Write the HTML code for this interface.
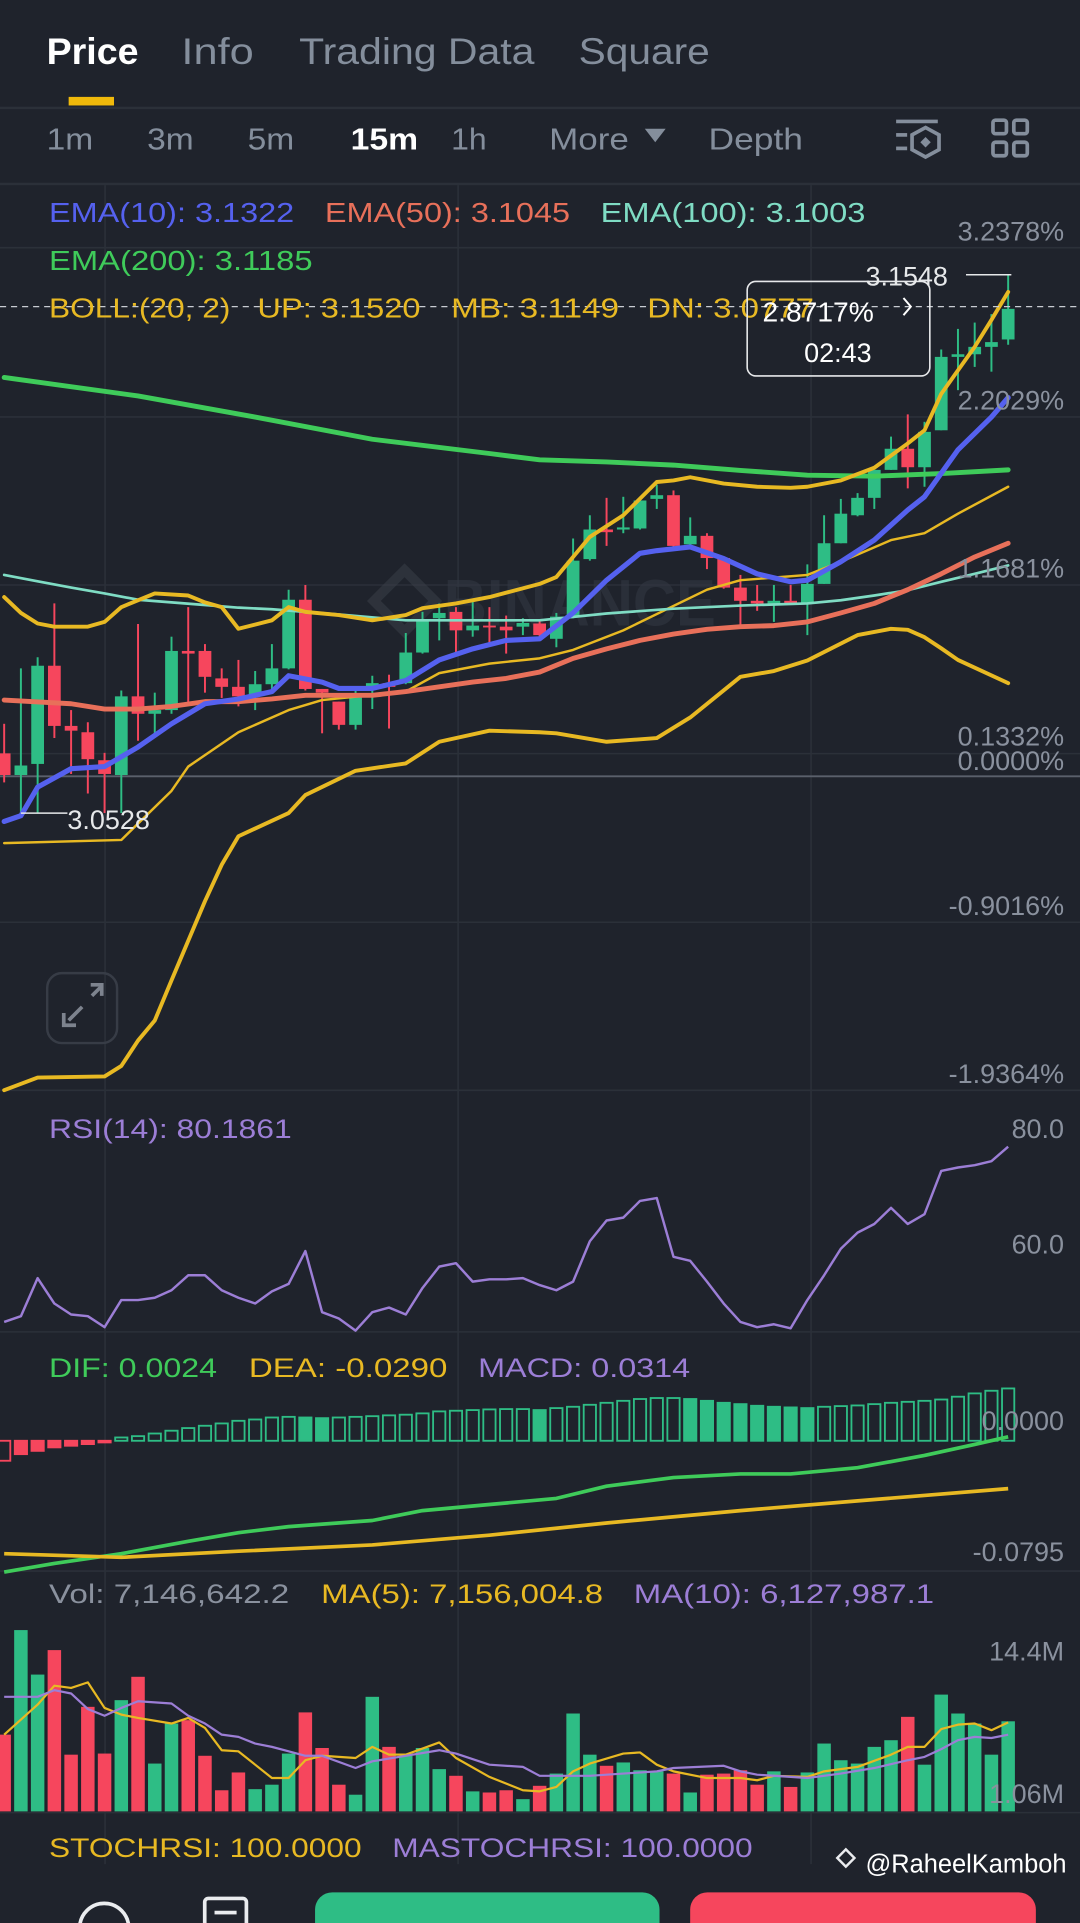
<!DOCTYPE html>
<html><head><meta charset="utf-8">
<style>
html,body{margin:0;padding:0;background:#1f232c;}
svg{display:block;font-family:"Liberation Sans",sans-serif;}
</style></head>
<body>
<svg id="chart" width="1080" height="1923" viewBox="0 0 881 1568" preserveAspectRatio="none" xmlns="http://www.w3.org/2000/svg">
<rect x="0" y="0" width="881" height="1568" fill="#1f232c"/>

<!-- top tabs -->
<g font-size="30">
<text x="38" y="52" fill="#ffffff" font-weight="bold" textLength="75" lengthAdjust="spacingAndGlyphs">Price</text>
<text x="148" y="52" fill="#848e9c" textLength="59" lengthAdjust="spacingAndGlyphs">Info</text>
<text x="244" y="52" fill="#848e9c" textLength="192" lengthAdjust="spacingAndGlyphs">Trading Data</text>
<text x="472" y="52" fill="#848e9c" textLength="107" lengthAdjust="spacingAndGlyphs">Square</text>
<rect x="56" y="79" width="37" height="7" fill="#f0b90b"/>
</g>
<rect x="0" y="87" width="881" height="2" fill="#2b3039"/>

<!-- interval row -->
<g font-size="25">
<text x="38" y="122" fill="#848e9c" textLength="38" lengthAdjust="spacingAndGlyphs">1m</text>
<text x="120" y="122" fill="#848e9c" textLength="38" lengthAdjust="spacingAndGlyphs">3m</text>
<text x="202" y="122" fill="#848e9c" textLength="38" lengthAdjust="spacingAndGlyphs">5m</text>
<text x="286" y="122" fill="#ffffff" font-weight="bold" textLength="55" lengthAdjust="spacingAndGlyphs">15m</text>
<text x="368" y="122" fill="#848e9c" textLength="29" lengthAdjust="spacingAndGlyphs">1h</text>
<text x="448" y="122" fill="#848e9c" textLength="65" lengthAdjust="spacingAndGlyphs">More</text>
<path d="M526 105 L543 105 L534.5 116 Z" fill="#848e9c"/>
<text x="578" y="122" fill="#848e9c" textLength="77" lengthAdjust="spacingAndGlyphs">Depth</text>
<g stroke="#848e9c" stroke-width="3" fill="none">
<line x1="731" y1="99" x2="765" y2="99"/><line x1="731" y1="110" x2="740" y2="110"/><line x1="731" y1="121" x2="740" y2="121"/>
<path d="M755 104 L766 110 L766 122 L755 128 L744 122 L744 110 Z"/>
<rect x="752" y="113" width="6" height="6" fill="#848e9c" stroke="none" transform="rotate(45 755 116)"/>
</g>
<g stroke="#848e9c" stroke-width="3" fill="none">
<rect x="810" y="98" width="11" height="11" rx="2"/><rect x="827" y="98" width="11" height="11" rx="2"/>
<rect x="810" y="116" width="11" height="11" rx="2"/><rect x="827" y="116" width="11" height="11" rx="2"/>
</g>
</g>
<rect x="0" y="149" width="881" height="2" fill="#2b3039"/>

<!-- grid -->
<g id="grid" stroke="#2b3039" stroke-width="1.3">
<line x1="0" y1="202" x2="881" y2="202"/><line x1="0" y1="340" x2="881" y2="340"/>
<line x1="0" y1="477" x2="881" y2="477"/><line x1="0" y1="614.5" x2="881" y2="614.5"/>
<line x1="0" y1="752" x2="881" y2="752"/><line x1="0" y1="889" x2="881" y2="889"/>
<line x1="0" y1="1086" x2="881" y2="1086"/><line x1="0" y1="1281" x2="881" y2="1281"/>
<line x1="0" y1="1478" x2="881" y2="1478"/>
<line x1="85.7" y1="151" x2="85.7" y2="1520"/><line x1="373.7" y1="151" x2="373.7" y2="1520"/><line x1="661.6" y1="151" x2="661.6" y2="1520"/>
</g>
<line x1="0" y1="633" x2="881" y2="633" stroke="#5a606b" stroke-width="1.5"/>

<!-- watermark -->
<g opacity="0.55">
<path d="M330 465 L355 490 L330 515 L305 490 Z" fill="none" stroke="#3a3f49" stroke-width="8"/>
<text x="362" y="510" font-size="54" font-weight="bold" fill="#343944" textLength="222" lengthAdjust="spacingAndGlyphs">BINANCE</text>
</g>

<g id="price-layer"></g>

<!-- current price dashed line -->
<line x1="0" y1="250" x2="881" y2="250" stroke="#c8ccd2" stroke-width="1" stroke-dasharray="5,4"/>

<!-- legends -->
<g font-size="22.5">
<text x="40" y="181" fill="#5561ef" textLength="200" lengthAdjust="spacingAndGlyphs">EMA(10): 3.1322</text>
<text x="265" y="181" fill="#e8705a" textLength="200" lengthAdjust="spacingAndGlyphs">EMA(50): 3.1045</text>
<text x="490" y="181" fill="#7fdcc4" textLength="216" lengthAdjust="spacingAndGlyphs">EMA(100): 3.1003</text>
<text x="40" y="220" fill="#3fcb5a" textLength="215" lengthAdjust="spacingAndGlyphs">EMA(200): 3.1185</text>
<text x="40" y="259" fill="#e8b923" textLength="148" lengthAdjust="spacingAndGlyphs">BOLL:(20, 2)</text>
<text x="210" y="259" fill="#e8b923" textLength="133" lengthAdjust="spacingAndGlyphs">UP: 3.1520</text>
<text x="368" y="259" fill="#e8b923" textLength="137" lengthAdjust="spacingAndGlyphs">MB: 3.1149</text>
<text x="528" y="259" fill="#e8b923" textLength="136" lengthAdjust="spacingAndGlyphs">DN: 3.0777</text>
</g>

<!-- right percent axis -->
<g font-size="22" fill="#8a919e" text-anchor="end">
<text x="868" y="196">3.2378%</text>
<text x="868" y="334">2.2029%</text>
<text x="868" y="471">1.1681%</text>
<text x="868" y="608">0.1332%</text>
<text x="868" y="628">0.0000%</text>
<text x="868" y="746">-0.9016%</text>
<text x="868" y="883">-1.9364%</text>
</g>

<!-- high/low labels -->
<g>
<line x1="788" y1="224" x2="825" y2="224" stroke="#e6e8ea" stroke-width="1.2"/>
<text x="706" y="233" font-size="22" fill="#e6e8ea">3.1548</text>
</g>
<g>
<line x1="17" y1="663" x2="55" y2="663" stroke="#e6e8ea" stroke-width="1.2"/>
<text x="55" y="676" font-size="22" fill="#e6e8ea">3.0528</text>
</g>

<!-- countdown box -->
<g>
<rect x="609.5" y="229.5" width="149" height="77" rx="7" fill="none" stroke="#e6e8ea" stroke-width="1.3"/>
<text x="622" y="262" font-size="23" fill="#ffffff">2.8717%</text>
<path d="M737 243 L743 250 L737 257" fill="none" stroke="#ffffff" stroke-width="1.6"/>
<text x="656" y="295" font-size="22" fill="#ffffff">02:43</text>
</g>

<!-- expand icon -->
<g>
<rect x="38.5" y="793.5" width="57" height="57" rx="12" fill="none" stroke="#373c46" stroke-width="2"/>
<g stroke="#7d838e" stroke-width="3" fill="none">
<line x1="56" y1="832" x2="67" y2="821"/><path d="M52 826 L52 836 L62 836"/>
<line x1="75" y1="812" x2="82" y2="805"/><path d="M74 803 L83 803 L83 812"/>
</g>
</g>

<!-- RSI -->
<text x="40" y="928" font-size="22" fill="#9c7ed6" textLength="198" lengthAdjust="spacingAndGlyphs">RSI(14): 80.1861</text>
<g font-size="22" fill="#8a919e" text-anchor="end">
<text x="868" y="928">80.0</text><text x="868" y="1022">60.0</text>
</g>
<g id="rsi-layer"></g>

<!-- MACD -->
<g font-size="22">
<text x="40" y="1123" fill="#3fcb5a" textLength="137" lengthAdjust="spacingAndGlyphs">DIF: 0.0024</text>
<text x="203" y="1123" fill="#e8b923" textLength="162" lengthAdjust="spacingAndGlyphs">DEA: -0.0290</text>
<text x="390" y="1123" fill="#9c7ed6" textLength="173" lengthAdjust="spacingAndGlyphs">MACD: 0.0314</text>
</g>
<g id="macd-layer"></g>
<g font-size="22" fill="#8a919e" text-anchor="end">
<text x="868" y="1166">0.0000</text><text x="868" y="1273">-0.0795</text>
</g>

<!-- Volume -->
<g font-size="22">
<text x="40" y="1307" fill="#8a919e" textLength="196" lengthAdjust="spacingAndGlyphs">Vol: 7,146,642.2</text>
<text x="262" y="1307" fill="#e8b923" textLength="230" lengthAdjust="spacingAndGlyphs">MA(5): 7,156,004.8</text>
<text x="517" y="1307" fill="#9c7ed6" textLength="245" lengthAdjust="spacingAndGlyphs">MA(10): 6,127,987.1</text>
</g>
<g id="vol-layer"></g>
<g font-size="22" fill="#8a919e" text-anchor="end">
<text x="868" y="1354">14.4M</text><text x="868" y="1470">1.06M</text>
</g>

<!-- STOCHRSI -->
<text x="40" y="1514" font-size="22" fill="#e8b923" textLength="255" lengthAdjust="spacingAndGlyphs">STOCHRSI: 100.0000</text>
<text x="320" y="1514" font-size="22" fill="#9c7ed6" textLength="294" lengthAdjust="spacingAndGlyphs">MASTOCHRSI: 100.0000</text>

<!-- bottom bar -->
<g>
<circle cx="85" cy="1572" r="20" fill="none" stroke="#eaecef" stroke-width="3"/>
<rect x="167" y="1548" width="34" height="30" rx="3" fill="none" stroke="#eaecef" stroke-width="3"/>
<rect x="175" y="1558" width="18" height="3" fill="#eaecef"/>
<rect x="257" y="1543" width="281" height="40" rx="14" fill="#2ebd85"/>
<rect x="563" y="1543" width="282" height="40" rx="14" fill="#f6465d"/>
<path d="M690 1508 L697 1515 L690 1522 L683 1515 Z" fill="none" stroke="#eaecef" stroke-width="2"/>
<text x="706" y="1527" font-size="21" fill="#ffffff" textLength="164" lengthAdjust="spacingAndGlyphs">@RaheelKamboh</text>
</g>
</svg>

<script>
// ---- candle data (price) ----
const opens  = [3.0641,3.0600,3.0621,3.0807,3.0693,3.0681,3.0628,3.0600,3.0749,3.0716,3.0723,3.0835,3.0835,3.0783,3.0767,3.0749,3.0772,3.0802,3.0932,3.0763,3.0739,3.0695,3.0767,3.0774,3.0774,3.0832,3.0897,3.0909,3.0874,3.0883,3.0881,3.0881,3.0887,3.0858,3.0900,3.1009,3.1065,3.1065,3.1067,3.1123,3.1130,3.1037,3.1053,3.1011,3.0955,3.0930,3.0925,3.0930,3.0925,3.0962,3.1039,3.1092,3.1125,3.1178,3.1218,3.1183,3.1253,3.1392,3.1397,3.1411,3.1425];
const closes = [3.0600,3.0618,3.0807,3.0693,3.0684,3.0630,3.0602,3.0749,3.0716,3.0723,3.0835,3.0830,3.0786,3.0767,3.0749,3.0772,3.0802,3.0932,3.0763,3.0756,3.0695,3.0749,3.0774,3.0767,3.0832,3.0893,3.0907,3.0874,3.0883,3.0881,3.0874,3.0888,3.0865,3.0900,3.1006,3.1065,3.1060,3.1069,3.1120,3.1130,3.1034,3.1053,3.1011,3.0955,3.0930,3.0925,3.0930,3.0925,3.0962,3.1039,3.1095,3.1125,3.1178,3.1218,3.1183,3.1250,3.1392,3.1397,3.1411,3.1420,3.1483];
const highs  = [3.0697,3.0802,3.0823,3.0925,3.0723,3.0700,3.0642,3.0760,3.0886,3.0756,3.0862,3.0918,3.0848,3.0802,3.0818,3.0797,3.0848,3.0951,3.0960,3.0763,3.0739,3.0760,3.0788,3.0790,3.0869,3.0909,3.0925,3.0918,3.0932,3.0918,3.0902,3.0897,3.0895,3.0907,3.1048,3.1092,3.1125,3.1127,3.1123,3.1150,3.1139,3.1088,3.1058,3.1011,3.0979,3.0960,3.0960,3.0960,3.0999,3.1092,3.1123,3.1134,3.1178,3.1241,3.1283,3.1269,3.1406,3.1445,3.1457,3.1473,3.1548];
const lows   = [3.0586,3.0528,3.0528,3.0670,3.0602,3.0565,3.0528,3.0528,3.0665,3.0672,3.0716,3.0735,3.0756,3.0746,3.0730,3.0723,3.0758,3.0800,3.0760,3.0679,3.0686,3.0686,3.0725,3.0688,3.0772,3.0830,3.0855,3.0832,3.0862,3.0846,3.0830,3.0865,3.0855,3.0842,3.0897,3.1006,3.1034,3.1058,3.1065,3.1104,3.1032,3.1032,3.0990,3.0953,3.0883,3.0911,3.0890,3.0925,3.0865,3.0962,3.1039,3.1090,3.1104,3.1178,3.1143,3.1146,3.1253,3.1329,3.1373,3.1364,3.1415];

// ---- overlay lines: sampled candle index + price ----
const ema10Idx = [0,1,2,4,6,8,10,12,14,16,17,19,20,22,24,26,28,30,32,34,36,38,39,41,43,45,47,48,50,52,54,55,57,59,60];
const ema10Val = [3.0512,3.0523,3.0577,3.0612,3.0616,3.0653,3.0697,3.0735,3.0744,3.0758,3.0788,3.0776,3.0764,3.0764,3.0779,3.0818,3.0839,3.0855,3.0858,3.0907,3.0969,3.1020,3.1025,3.1032,3.1010,3.0981,3.0966,3.0969,3.1004,3.1045,3.1102,3.1127,3.1216,3.1278,3.1315];
const ema50Idx = [0,4,6,8,10,12,14,16,18,20,22,24,26,28,30,32,34,36,38,40,42,44,46,48,50,52,54,56,58,60];
const ema50Val = [3.0742,3.0735,3.0725,3.0725,3.0730,3.0739,3.0739,3.0744,3.0751,3.0751,3.0751,3.0758,3.0767,3.0776,3.0783,3.0795,3.0821,3.0839,3.0855,3.0867,3.0876,3.0881,3.0883,3.0890,3.0907,3.0925,3.0951,3.0981,3.1013,3.1039];
const ema100Idx = [0,2,4,6,8,10,12,14,16,20,24,28,32,36,40,44,48,50,52,54,56,58,60];
const ema100Val = [3.0979,3.0967,3.0955,3.0944,3.0932,3.0927,3.0922,3.0917,3.0914,3.0904,3.0893,3.0893,3.0893,3.0906,3.0915,3.0921,3.0925,3.0931,3.0940,3.0950,3.0966,3.0981,3.0997];
const ema200Idx = [0,8,15,22,29,32,36,40,44,48,52,56,60];
const ema200Val = [3.1353,3.1318,3.1278,3.1236,3.1209,3.1197,3.1193,3.1187,3.1177,3.1168,3.1166,3.1171,3.1178];
const bollUpIdx = [0,1,2,3,5,6,7,9,11,12,13,14,16,17,18,20,22,24,25,27,29,32,33,35,37,39,40,41,43,45,47,48,50,52,54,55,56,58,59,60];
const bollUpVal = [3.0937,3.0907,3.0887,3.0881,3.0881,3.0890,3.0918,3.0944,3.0940,3.0927,3.0918,3.0877,3.0893,3.0918,3.0909,3.0903,3.0893,3.0903,3.0916,3.0925,3.0937,3.0962,3.0975,3.1051,3.1092,3.1155,3.1158,3.1164,3.1152,3.1146,3.1144,3.1146,3.1158,3.1182,3.1228,3.1253,3.1322,3.1411,3.1462,3.1515];
const bollMbIdx = [0,7,10,11,14,17,19,24,26,29,32,34,37,42,44,48,50,53,55,57,60];
const bollMbVal = [3.0471,3.0477,3.0570,3.0616,3.0681,3.0723,3.0742,3.0758,3.0793,3.0811,3.0821,3.0837,3.0874,3.0951,3.0969,3.0979,3.1004,3.1045,3.1058,3.1095,3.1146];
const bollDnIdx = [0,2,6,7,8,9,10,11,12,13,14,17,18,21,24,26,29,32,33,36,39,41,44,46,48,51,53,54,55,56,57,60];
const bollDnVal = [3.0003,3.0027,3.0029,3.0049,3.0097,3.0135,3.0211,3.0286,3.0361,3.0430,3.0484,3.0528,3.0562,3.0608,3.0622,3.0663,3.0684,3.0681,3.0679,3.0663,3.0670,3.0709,3.0786,3.0797,3.0817,3.0865,3.0877,3.0875,3.0861,3.0840,3.0818,3.0774];

// ---- RSI ----
const rsiVal = [46.4,47.4,54.0,49.6,47.7,47.4,45.5,50.2,50.2,50.6,51.9,54.5,54.5,51.9,50.6,49.6,51.7,53.0,58.7,48.1,47.0,44.9,48.1,48.9,47.7,52.3,56.0,56.6,53.4,53.8,53.8,54.0,52.8,51.9,53.4,60.4,64.0,64.5,67.4,67.9,57.7,57.0,53.4,49.6,46.4,45.5,46.0,45.3,50.2,54.5,59.1,61.9,63.4,66.2,63.4,65.1,72.6,73.2,73.6,74.3,76.8];

// ---- MACD ----
const macdHist = [-0.0121,-0.0081,-0.0061,-0.0040,-0.0030,-0.0020,-0.0010,0.0020,0.0028,0.0044,0.0061,0.0077,0.0091,0.0105,0.0121,0.0129,0.0141,0.0145,0.0141,0.0137,0.0141,0.0145,0.0149,0.0154,0.0158,0.0166,0.0178,0.0182,0.0186,0.0190,0.0192,0.0192,0.0186,0.0198,0.0206,0.0218,0.0230,0.0242,0.0253,0.0259,0.0259,0.0253,0.0242,0.0230,0.0222,0.0212,0.0206,0.0202,0.0198,0.0206,0.0210,0.0214,0.0222,0.0230,0.0236,0.0242,0.0250,0.0267,0.0287,0.0303,0.0317];
const difIdx = [0,3,7,11,14,17,22,25,29,33,36,40,44,47,51,55,58,60];
const difVal = [-0.0795,-0.0743,-0.0684,-0.0609,-0.0557,-0.0520,-0.0483,-0.0423,-0.0386,-0.0349,-0.0275,-0.0223,-0.0201,-0.0201,-0.0163,-0.0089,-0.0022,0.0024];
const deaIdx = [0,7,14,22,29,36,44,51,60];
const deaVal = [-0.0684,-0.0706,-0.0669,-0.0631,-0.0572,-0.0498,-0.0423,-0.0364,-0.0290];

// ---- Volume (millions) ----
const volVal = [6.9,16.3,12.3,14.5,5.1,9.4,5.2,10.0,12.1,4.3,7.9,8.2,5.0,1.9,3.5,2.0,2.4,5.2,8.9,5.7,2.4,1.5,10.3,5.8,5.0,5.7,3.8,3.2,1.8,1.7,1.9,1.1,2.3,3.4,8.8,5.1,4.1,4.4,3.7,3.6,3.4,1.7,3.3,3.4,3.7,2.4,3.6,2.2,3.5,6.1,4.6,4.3,5.8,6.4,8.5,4.2,10.5,8.8,7.9,5.1,8.1];
const volUp = [0,1,1,0,0,0,0,1,0,1,1,0,0,0,0,1,1,1,0,0,0,1,1,0,1,1,1,0,1,0,0,1,0,1,1,1,0,1,1,1,0,1,0,0,0,0,1,0,1,1,1,1,1,1,0,1,1,1,1,1,1];
const ma5Idx = [0,2,3,4,5,6,7,8,10,11,12,13,14,15,16,17,18,19,21,22,23,24,26,27,29,31,32,33,34,35,37,38,39,40,42,44,45,46,48,49,51,53,54,55,56,57,58,59,60];
const ma5Val = [6.9,9.6,11.3,11.1,11.6,9.3,8.7,8.4,7.9,8.4,7.5,5.5,5.4,4.2,3.0,3.0,4.6,5.0,4.8,5.8,5.1,5.1,6.2,4.8,3.1,1.9,1.8,2.2,3.6,4.3,5.2,5.3,4.2,3.6,3.0,3.0,2.8,3.2,3.1,3.6,4.0,5.1,5.8,5.8,7.4,7.8,7.9,7.3,8.0];
const ma10Idx = [0,2,3,4,5,6,7,8,10,11,12,13,14,15,16,17,18,19,21,22,24,26,27,29,31,32,33,35,37,39,40,43,44,45,47,48,50,52,54,55,56,57,58,59,60];
const ma10Val = [10.3,10.3,10.9,10.6,9.2,8.6,9.3,9.9,9.7,8.6,7.9,6.9,6.7,6.1,5.8,5.4,5.0,5.0,3.9,4.5,5.0,5.5,5.2,4.2,4.0,3.2,3.2,3.2,3.4,3.6,3.9,4.1,3.6,3.3,3.1,3.0,3.4,3.9,4.6,4.9,5.6,6.4,6.7,6.6,6.9];

// ---- axis functions ----
function xAt(i){ return 3.4 + 13.65*i; }
function priceY(p){ return (3.2068 - p)/0.0002323; }
function rsiY(v){ return 920 + (80 - v)*4.7; }
function macdY(v){ return 1174.8 - v*1346; }
function volY(v){ return 1477 - v*9.07; }

const NS = 'http://www.w3.org/2000/svg';
const GREEN = '#2ebd85', RED = '#f6465d';
function mk(tag, attrs, parent){
  const e = document.createElementNS(NS, tag);
  for (const k in attrs) e.setAttribute(k, attrs[k]);
  parent.appendChild(e);
  return e;
}
function linePath(idx, vals, yf){
  let d = '';
  for (let k = 0; k < idx.length; k++) d += (k ? 'L' : 'M') + xAt(idx[k]).toFixed(2) + ' ' + yf(vals[k]).toFixed(2);
  return d;
}

const priceLayer = document.getElementById('price-layer');
// candles
for (let i = 0; i < opens.length; i++){
  const up = closes[i] >= opens[i];
  const col = up ? GREEN : RED;
  const g = mk('g', {}, priceLayer);
  
  
  mk('line', {x1: xAt(i), x2: xAt(i), y1: priceY(highs[i]), y2: priceY(lows[i]), stroke: col, 'stroke-width': 1.6}, g);
  const top = priceY(Math.max(opens[i], closes[i]));
  const bot = priceY(Math.min(opens[i], closes[i]));
  mk('rect', {x: xAt(i) - 5.2, y: top, width: 10.4, height: Math.max(1.5, bot - top), fill: col}, g);
}
// overlays
const overlays = [
  ['boll-mid-line', bollMbIdx, bollMbVal, '#e8b923', 2],
  ['ema100-line', ema100Idx, ema100Val, '#7fdcc4', 2.2],
  ['ema50-line', ema50Idx, ema50Val, '#e8705a', 4],
  ['ema200-line', ema200Idx, ema200Val, '#3fcb5a', 4],
  ['boll-upper-line', bollUpIdx, bollUpVal, '#e8b923', 3.2],
  ['boll-lower-line', bollDnIdx, bollDnVal, '#e8b923', 3.2],
  ['ema10-line', ema10Idx, ema10Val, '#5561ef', 4.2]
];
for (const o of overlays){
  const p = mk('path', {d: linePath(o[1], o[2], priceY), fill: 'none', stroke: o[3], 'stroke-width': o[4], 'stroke-linejoin': 'round', 'stroke-linecap': 'round'}, priceLayer);
  
  
}

// RSI
const rsiLayer = document.getElementById('rsi-layer');
const rsiIdx = rsiVal.map((v, i) => i);
const rp = mk('path', {d: linePath(rsiIdx, rsiVal, rsiY), fill: 'none', stroke: '#9c7ed6', 'stroke-width': 2, 'stroke-linejoin': 'round'}, rsiLayer);



// MACD
const macdLayer = document.getElementById('macd-layer');
for (let i = 0; i < macdHist.length; i++){
  const v = macdHist[i];
  const prev = i > 0 ? macdHist[i-1] : v;
  const col = v >= 0 ? GREEN : RED;
  const growing = Math.abs(v) >= Math.abs(prev);
  const y0 = macdY(0), y1 = macdY(v);
  const r = mk('rect', {x: xAt(i) - 5, y: Math.min(y0, y1), width: 10, height: Math.max(1, Math.abs(y1 - y0)),
    fill: growing ? 'none' : col, stroke: col, 'stroke-width': 1.5}, macdLayer);
  
  
}
const difP = mk('path', {d: linePath(difIdx, difVal, macdY), fill: 'none', stroke: '#3fcb5a', 'stroke-width': 3, 'stroke-linejoin': 'round'}, macdLayer);


const deaP = mk('path', {d: linePath(deaIdx, deaVal, macdY), fill: 'none', stroke: '#e8b923', 'stroke-width': 3, 'stroke-linejoin': 'round'}, macdLayer);



// Volume
const volLayer = document.getElementById('vol-layer');
for (let i = 0; i < volVal.length; i++){
  const y = volY(volVal[i]);
  const b = mk('rect', {x: xAt(i) - 5.5, y: y, width: 11, height: volY(0) - y, fill: volUp[i] ? GREEN : RED}, volLayer);
  
  
}
const ma5P = mk('path', {d: linePath(ma5Idx, ma5Val, volY), fill: 'none', stroke: '#e8b923', 'stroke-width': 1.8, 'stroke-linejoin': 'round'}, volLayer);


const ma10P = mk('path', {d: linePath(ma10Idx, ma10Val, volY), fill: 'none', stroke: '#9c7ed6', 'stroke-width': 1.8, 'stroke-linejoin': 'round'}, volLayer);


</script>
</body></html>
